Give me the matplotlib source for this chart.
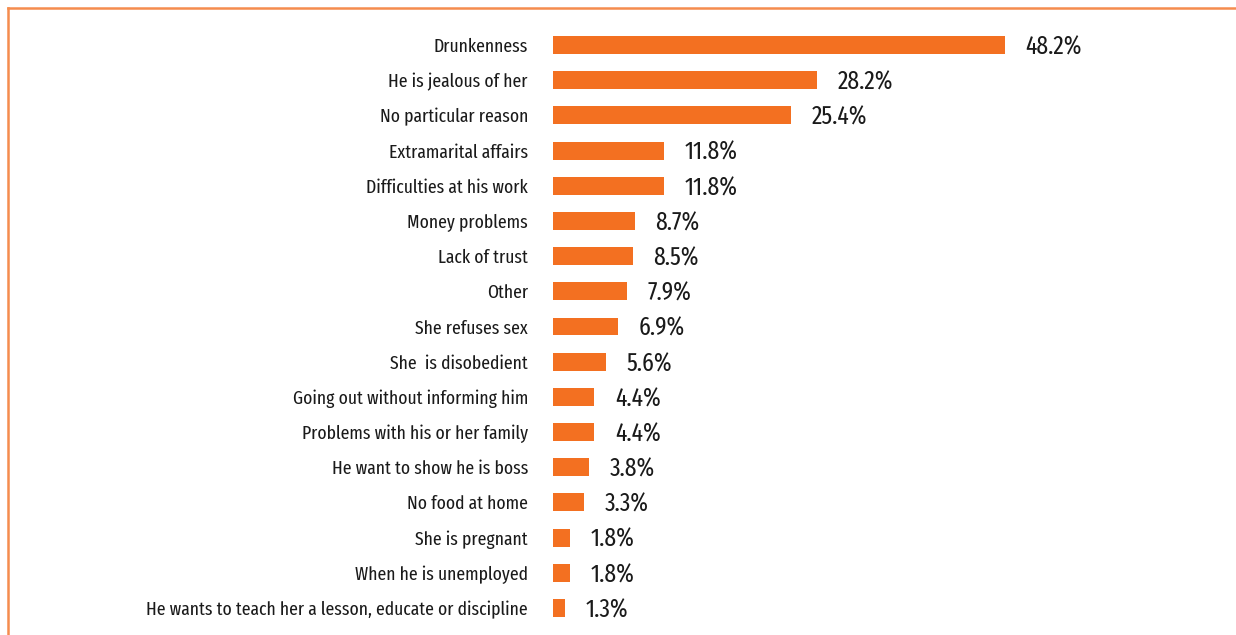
import matplotlib
matplotlib.use("Agg")
from matplotlib import pyplot as plt
from matplotlib.lines import Line2D

reasons = ['Drunkenness', 'He is jealous of her', 'No particular reason',
           'Extramarital affairs', 'Difficulties at his work', 'Money problems',
           'Lack of trust', 'Other', 'She refuses sex', 'She  is disobedient',
           'Going out without informing him', 'Problems with his or her family',
           'He want to show he is boss', 'No food at home', 'She is pregnant',
           'When he is unemployed',
           'He wants to teach her a lesson, educate or discipline']
percents = [48.2, 28.2, 25.4, 11.8, 11.8, 8.7, 8.5, 7.9, 6.9, 5.6,
            4.4, 4.4, 3.8, 3.3, 1.8, 1.8, 1.3]

plt.rcParams['font.family'] = ['Fira Sans Extra Condensed', 'Fira Sans Condensed', 'DejaVu Sans']

fig = plt.figure(figsize=(12.36, 6.35), dpi=100)
ax = fig.add_axes([553 / 1236, 1 - 625.6 / 635, 562.7 / 1236, 598.2 / 635])

ypos = list(range(len(reasons)))
ax.barh(ypos, percents, height=0.51, color='#F37021')
vals = []
for y, v in zip(ypos, percents):
    vals.append(ax.text(v + 2.2, y + 0.06, '%.1f%%' % v, va='center', ha='left',
                        color='#1a1a1a', fontsize=15))

ax.set_xlim(0, 60)
ax.set_ylim(len(reasons) - 0.5, -0.5)
ax.set_yticks(ypos)
labs = ax.set_yticklabels(reasons, color='#1a1a1a', fontsize=12)
ax.tick_params(axis='y', length=0, pad=18)
ax.set_xticks([])
for s in ax.spines.values():
    s.set_visible(False)

# fit font sizes to the widths seen in the reference
r = fig.canvas.get_renderer()
w = labs[-1].get_window_extent(r).width
for t in labs:
    t.set_fontsize(12 * 381 / w)
w = vals[0].get_window_extent(r).width
for t in vals:
    t.set_fontsize(15 * 57 / w)

fig.add_artist(Line2D([8 / 1236, 1], [627 / 635, 627 / 635],
                      color='#F58C4E', lw=1.8, transform=fig.transFigure))
fig.add_artist(Line2D([8 / 1236, 8 / 1236], [0, 627 / 635],
                      color='#F58C4E', lw=1.8, transform=fig.transFigure))

plt.savefig('out.png', dpi=100)
